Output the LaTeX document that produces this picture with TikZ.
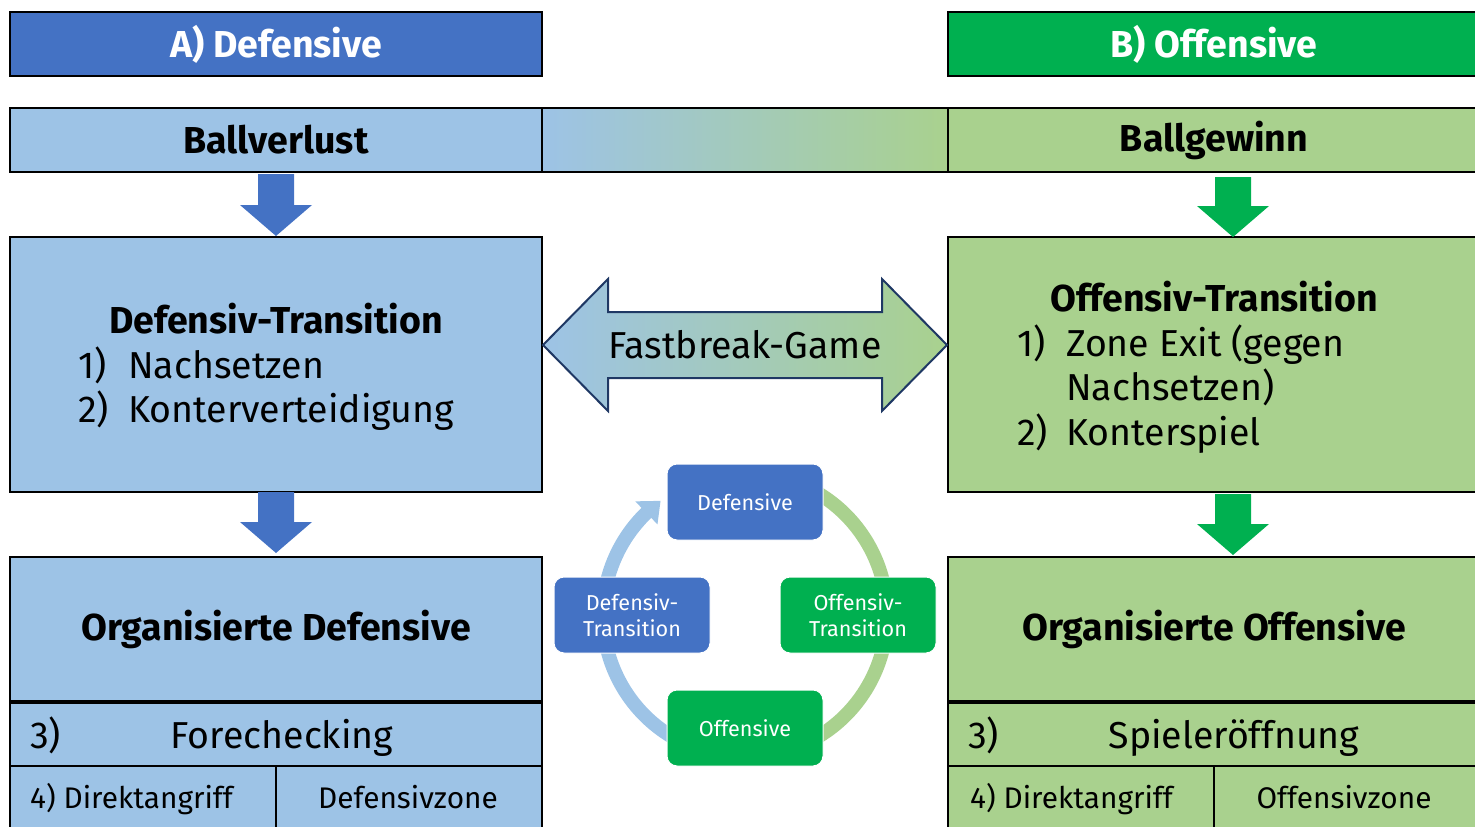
\documentclass[tikz,border=0pt]{standalone}
\usepackage{fontspec}
\setmainfont{Fira Sans}
\usetikzlibrary{calc}
\definecolor{dblue}{HTML}{4472C4}
\definecolor{lblue}{HTML}{9DC3E6}
\definecolor{dgreen}{HTML}{00B050}
\definecolor{lgreen}{HTML}{A9D18E}
\definecolor{navy}{HTML}{1F3864}
\newcommand\fs[1]{\fontsize{#1}{#1}\selectfont}
% block arrow pointing down: #1 start coordinate, #2 colour, #3 length
\newcommand\blockdown[3]{%
  \fill[#2] (#1) ++(-18,0) -- ++(36,0) -- ++(0,{#3-31}) -- ++(18,0) -- ++(-36,31) -- ++(-36,-31) -- ++(18,0) -- cycle;}
\begin{document}
\begin{tikzpicture}[x=1pt,y=-1pt,
  box/.style={draw=black, line width=2.5pt, anchor=north west, inner sep=0pt, outer sep=0pt},
  cell/.style={draw=black, line width=1.5pt, anchor=north west, inner sep=0pt, outer sep=0pt},
  hd/.style={font=\bfseries\fs{37.5}},
  txt/.style={inner sep=0pt, font=\fs{37.5}},
  small/.style={inner sep=0pt, font=\fs{29.8}},
  cyc/.style={draw=white, line width=1pt, rounded corners=10pt, minimum width=156pt, minimum height=76pt, inner sep=0pt, text=white, align=center, font=\fontsize{21.6}{26}\selectfont},
  arcb/.style={draw=lblue, line width=14pt},
  arcg/.style={draw=lgreen, line width=14pt}]
\useasboundingbox (0,0) rectangle (1475,827);

% headers
\node[box, fill=dblue, minimum width=532pt, minimum height=64pt, text=white, hd] (hA) at (10,12) {A) Defensive};
\node[box, fill=dgreen, minimum width=532pt, minimum height=64pt, text=white, hd] (hB) at (948,12) {B) Offensive};

% ball bar
\node[box, fill=lblue, minimum width=532pt, minimum height=64pt, hd] (ball) at (10,108) {Ballverlust};
\node[box, left color=lblue, right color=lgreen, minimum width=406pt, minimum height=64pt] (mid) at (542,108) {};
\node[box, fill=lgreen, minimum width=532pt, minimum height=64pt, hd] (bgw) at (948,108) {Ballgewinn};

% transition boxes
\node[box, fill=lblue, minimum width=532pt, minimum height=255pt] (dt) at (10,237) {};
\node[box, fill=lgreen, minimum width=532pt, minimum height=255pt] (ot) at (948,237) {};

\node[hd, inner sep=0pt] (dtt) at (276,319) {Defensiv-Transition};
\node[txt, anchor=base west] (dt1n) at (78,378) {1)};
\node[txt, anchor=base west] (dt1) at (128,378) {Nachsetzen};
\node[txt, anchor=base west] (dt2n) at (78,422) {2)};
\node[txt, anchor=base west] (dt2) at (128,422) {Konterverteidigung};

\node[hd, inner sep=0pt] (ott) at (1214,297) {Offensiv-Transition};
\node[txt, anchor=base west] (ot1n) at (1017,356) {1)};
\node[txt, anchor=base west] (ot1) at (1066,356) {Zone Exit (gegen};
\node[txt, anchor=base west] (ot1b) at (1066,400) {Nachsetzen)};
\node[txt, anchor=base west] (ot2n) at (1017,445) {2)};
\node[txt, anchor=base west] (ot2) at (1066,445) {Konterspiel};

% bottom rows
\node[cell, fill=lblue, minimum width=266pt, minimum height=70pt] (r4a) at (10,766) {};
\node[cell, fill=lblue, minimum width=266pt, minimum height=70pt] (r4b) at (276,766) {};
\node[cell, fill=lgreen, minimum width=266pt, minimum height=70pt] (r4c) at (948,766) {};
\node[cell, fill=lgreen, minimum width=266pt, minimum height=70pt] (r4d) at (1214,766) {};
\node[box, fill=lblue, minimum width=532pt, minimum height=64pt] (r3l) at (10,702) {};
\node[box, fill=lgreen, minimum width=532pt, minimum height=64pt] (r3r) at (948,702) {};
\node[box, fill=lblue, minimum width=532pt, minimum height=145pt, hd] (od) at (10,557) {Organisierte Defensive};
\node[box, fill=lgreen, minimum width=532pt, minimum height=145pt, hd] (oo) at (948,557) {Organisierte Offensive};
\draw[line width=4pt] (od.south west) -- (od.south east);
\draw[line width=4pt] (oo.south west) -- (oo.south east);

\node[txt, anchor=base west] (r3ln) at (30,748) {3)};
\node[txt, anchor=base] (r3lt) at (282,748) {Forechecking};
\node[txt, anchor=base west] (r3rn) at (968,748) {3)};
\node[txt, anchor=base] (r3rt) at (1234,748) {Spieleröffnung};
\node[small, anchor=base west] (r4at) at (30,808) {4) Direktangriff};
\node[small, anchor=base] (r4bt) at (408,808) {Defensivzone};
\node[small, anchor=base west] (r4ct) at (970,808) {4) Direktangriff};
\node[small, anchor=base] (r4dt) at (1344,808) {Offensivzone};

% down arrows
\coordinate (a1) at (276,174);
\coordinate (a2) at (1233,177);
\coordinate (a3) at (276,492);
\coordinate (a4) at (1233,494);
\blockdown{a1}{dblue}{62}
\blockdown{a2}{dgreen}{60}
\blockdown{a3}{dblue}{61}
\blockdown{a4}{dgreen}{61}

% fastbreak double arrow
\draw[navy, line width=2pt, line join=miter, left color=lblue, right color=lgreen]
  (543,345) -- (608,279) -- (608,312) -- (882,312) -- (882,279) -- (947,345)
  -- (882,411) -- (882,378) -- (608,378) -- (608,411) -- cycle;
\node[txt] (fb) at (745,345) {Fastbreak-Game};

% cycle
\coordinate (cc) at (745,615);
\draw[arcb] (cc) ++(188:142) arc[start angle=188, end angle=226.5, radius=142];
\fill[lblue] ($(cc)+(226:158)$) -- ($(cc)+(233.5:142)$) -- ($(cc)+(226:126)$) -- cycle;
\draw[arcg] (cc) ++(300:142) arc[start angle=300, end angle=350, radius=142];
\draw[arcg] (cc) ++(10:142) arc[start angle=10, end angle=60, radius=142];
\draw[arcb] (cc) ++(120:142) arc[start angle=120, end angle=170, radius=142];

\node[cyc, fill=dblue] (cD) at (745,502) {Defensive};
\node[cyc, fill=dblue] (cDT) at (632,615) {Defensiv-\\Transition};
\node[cyc, fill=dgreen] (cOT) at (858,615) {Offensiv-\\Transition};
\node[cyc, fill=dgreen] (cO) at (745,728) {Offensive};
\end{tikzpicture}
\end{document}
